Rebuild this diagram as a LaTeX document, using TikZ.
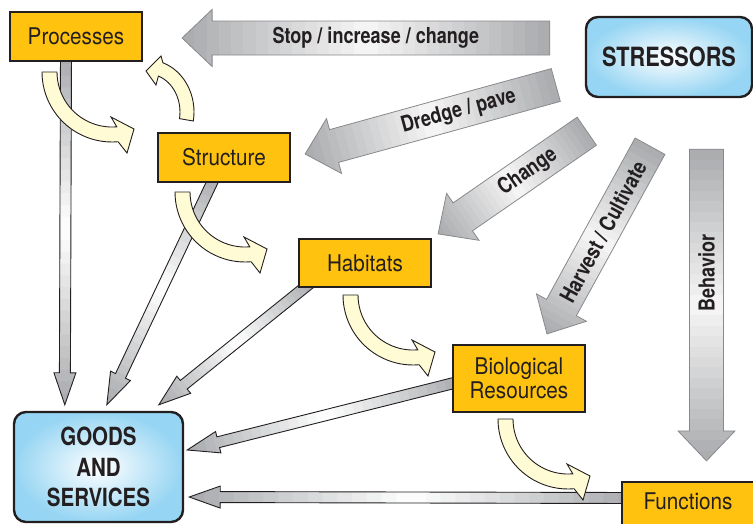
\documentclass[tikz,border=0pt]{standalone}
\usepackage{fontspec}
\newfontfamily\hvreg{TeX Gyre Heros}[FakeStretch=0.9]
\newfontfamily\hvbold{TeX Gyre Heros}[FakeStretch=0.82]
\usetikzlibrary{calc}
\pgfdeclarelayer{bg}
\pgfsetlayers{bg,main}
\definecolor{boxfill}{RGB}{255,194,14}
\definecolor{ink}{RGB}{35,31,32}
\definecolor{cream}{RGB}{255,251,212}
\definecolor{skyb}{RGB}{150,213,243}
\definecolor{arrgray}{RGB}{168,170,173}
\definecolor{edgegray}{RGB}{135,137,140}
\definecolor{lightg}{RGB}{246,246,246}
% #1 edge style, #2 tail, #3 tip, #4 body half width, #5 head half width, #6 head length (all in pt, bare numbers),
% #7 end colour, #8 middle colour
\newcommand\fatarrow[8]{%
  \path let \p1=($(#3)-(#2)$) in \pgfextra{%
     \pgfmathsetmacro\tmpl{veclen(\x1,\y1)}\xdef\falen{\tmpl}%
     \pgfmathsetmacro\tmpa{atan2(\y1,\x1)}\xdef\faang{\tmpa}};%
  \pgfmathsetmacro\fab{\falen-#6}%
  \begin{scope}[shift={(#2)}, rotate=\faang]
    \begin{scope}
      \clip (0pt,#4pt) -- (\fab pt,#4pt) -- (\fab pt,#5pt) -- (\falen pt,0pt)
        -- (\fab pt,-#5pt) -- (\fab pt,-#4pt) -- (0pt,-#4pt) -- cycle;
      \foreach \i in {0,...,29}{%
        \pgfmathsetmacro\xa{\i*\falen/30}%
        \pgfmathsetmacro\xb{(\i+1)*\falen/30+0.6}%
        \pgfmathsetmacro\pp{abs(2*(\i+0.5)/30-1)*100}%
        \fill[#7!\pp!#8] (\xa pt,-#5pt) rectangle (\xb pt,#5pt);}
    \end{scope}
    \draw[#1] (0pt,#4pt) -- (\fab pt,#4pt) -- (\fab pt,#5pt) -- (\falen pt,0pt)
        -- (\fab pt,-#5pt) -- (\fab pt,-#4pt) -- (0pt,-#4pt) -- cycle;
  \end{scope}}
\tikzset{
  box/.style={draw=ink, line width=2.2pt, fill=boxfill, text=ink, inner sep=0pt, align=center,
    font=\hvreg\fontsize{23}{24}\selectfont},
  bluebox/.style={draw=ink, line width=2.4pt, rounded corners=12pt, inner color=white, outer color=skyb,
    text=ink, inner sep=0pt, align=center},
  bigedge/.style={draw=edgegray, line width=0.8pt, line join=miter},
  thinedge/.style={draw=ink, line width=0.9pt, line join=miter},
  curvestyle/.style={draw=ink, line width=0.9pt, fill=cream},
  lbl/.style={text=ink, inner sep=0pt, font=\hvbold\bfseries\fontsize{22}{24}\selectfont},
  curvy/.pic={
    \path[curvestyle] (42,72) arc[start angle=180, end angle=85, radius=70]
      -- (127,153) -- (134,129) -- (111,117) -- (116.8,126.8)
      arc[start angle=85, end angle=180, radius=55] -- cycle;
  }
}
\begin{document}
\begin{tikzpicture}[x=1pt,y=-1pt]
\useasboundingbox (0,0) rectangle (753,523);

% boxes
\node[box, minimum width=132pt, minimum height=49pt] (proc) at (76,36.5) {Processes};
\node[box, minimum width=132pt, minimum height=49pt] (struct) at (224,157.5) {Structure};
\node[box, minimum width=132pt, minimum height=48pt] (hab) at (365,263) {Habitats};
\node[box, minimum width=132pt, minimum height=67pt] (bio) at (519,378.5) {Biological\\Resources};
\node[box, minimum width=132pt, minimum height=46pt, text height=17pt, text depth=8pt] (func) at (688,505) {Functions};
\node[bluebox, minimum width=166pt, minimum height=80pt, font=\hvbold\bfseries\fontsize{26.5}{30}\selectfont] (stress) at (669,57) {STRESSORS};
\node[bluebox, minimum width=169pt, minimum height=110pt, font=\hvbold\bfseries\fontsize{25}{30.5}\selectfont] (goods) at (98.5,467) {GOODS\\AND\\SERVICES};

% connector ends
\coordinate (t1a) at ($(proc.south)+(-10,-10)$);
\coordinate (t1b) at ($(goods.north west)+(52,-6)$);
\coordinate (t2a) at ($(struct.south)+(-7,-11)$);
\coordinate (t2b) at ($(goods.north west)+(94,-6)$);
\coordinate (t3a) at ($(hab.south west)+(16,-8)$);
\coordinate (t3b) at ($(goods.north west)+(146,-6)$);
\coordinate (t4a) at ($(bio.west)+(12,2)$);
\coordinate (t4b) at ($(goods.east)+(3,-17)$);
\coordinate (t5a) at ($(func.west)+(12,-7)$);
\coordinate (t5b) at ($(goods.east)+(5,30)$);

\coordinate (s1a) at ($(stress.west)+(-35,-19)$);
\coordinate (s1b) at ($(proc.east)+(39,1.5)$);
\coordinate (s2a) at ($(stress.west)+(-29,28)$);
\coordinate (s2b) at ($(struct.east)+(14,-3.5)$);
\coordinate (s3a) at ($(stress.south west)+(2,33)$);
\coordinate (s3b) at ($(hab.north east)+(6,-4)$);
\coordinate (s4a) at ($(stress.south)+(-19,48)$);
\coordinate (s4b) at ($(bio.north)+(28,-10)$);
\coordinate (s5a) at ($(stress.south)+(37.5,51)$);
\coordinate (s5b) at ($(func.north)+(18.5,-20)$);

\begin{pgfonlayer}{bg}
  % thin arrows to goods and services
  \fatarrow{thinedge}{t1a}{t1b}{5.5}{11}{32}{arrgray}{white}
  \fatarrow{thinedge}{t2a}{t2b}{5.5}{11}{32}{arrgray}{white}
  \fatarrow{thinedge}{t3a}{t3b}{5.5}{11}{32}{arrgray}{white}
  \fatarrow{thinedge}{t4a}{t4b}{5.5}{11}{32}{arrgray}{white}
  \fatarrow{thinedge}{t5a}{t5b}{5.5}{11}{31}{arrgray}{white}
  % big stressor arrows
  \fatarrow{bigedge}{s1a}{s1b}{17}{28.5}{30}{arrgray}{lightg}
  \fatarrow{bigedge}{s2a}{s2b}{17}{28.5}{30}{arrgray}{lightg}
  \fatarrow{bigedge}{s3a}{s3b}{17}{28.5}{30}{arrgray}{lightg}
  \fatarrow{bigedge}{s4a}{s4b}{17}{28.5}{30}{arrgray}{lightg}
  \fatarrow{bigedge}{s5a}{s5b}{17}{28.5}{30}{arrgray}{lightg}
  % curved arrows
  \pic at (0,0) {curvy};
  \pic at (133,120) {curvy};
  \pic at (301,223) {curvy};
  \pic at (456,347) {curvy};
  \path[curvestyle] (193.3,121) arc[start angle=10, end angle=-71, x radius=46, y radius=52]
    -- (161,56) -- (146,71) -- (156,85) -- (158.4,76.1)
    arc[start angle=-71, end angle=10, x radius=32, y radius=38] -- cycle;
\end{pgfonlayer}

% arrow labels
\path (s1a) -- (s1b) node[lbl, pos=0.473] {Stop / increase / change};
\path (s2a) -- (s2b) node[lbl, pos=0.387, rotate=15.3] {Dredge / pave};
\path (s3a) -- (s3b) node[lbl, pos=0.397, rotate=34.8] {Change};
\path (s4a) -- (s4b) node[lbl, pos=0.456, rotate=61.5] {Harvest / Cultivate};
\path (s5a) -- (s5b) node[lbl, pos=0.398, rotate=90] {Behavior};
\end{tikzpicture}
\end{document}
